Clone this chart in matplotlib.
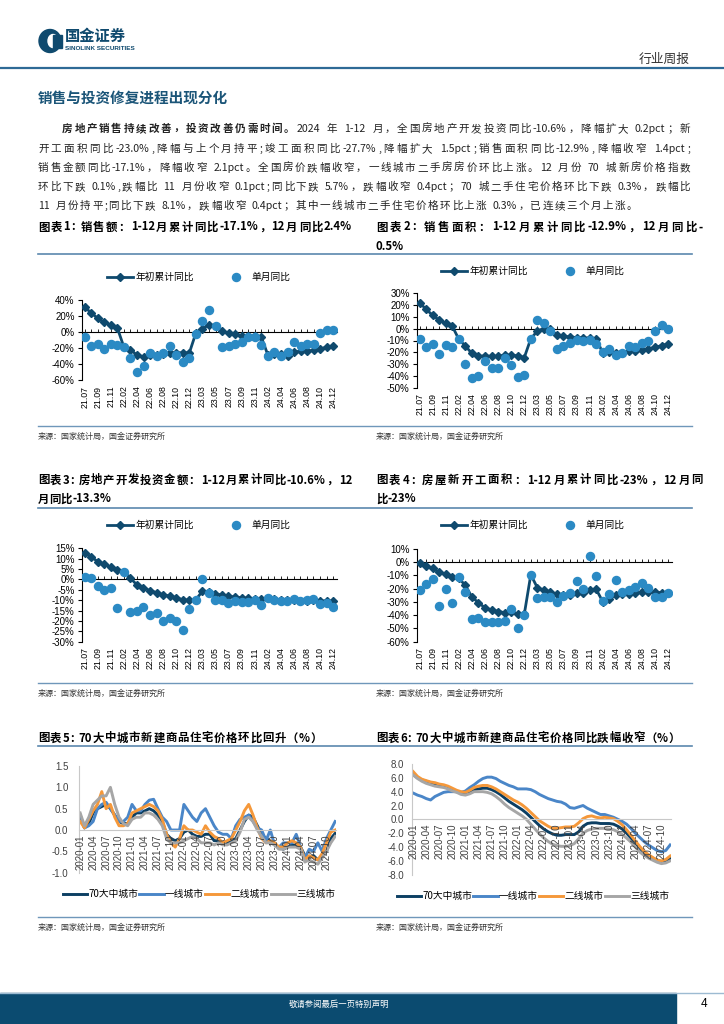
import re
import numpy as np
import matplotlib
matplotlib.use('Agg')
import matplotlib.pyplot as plt
from matplotlib.patches import Rectangle, Ellipse
from matplotlib.lines import Line2D

plt.rcParams['font.family'] = ['Noto Sans CJK SC', 'DejaVu Sans']
NUMFONT = ['Liberation Sans', 'DejaVu Sans']

# ---------------- data ----------------
months = ['21.07', '21.08', '21.09', '21.10', '21.11', '21.12',
          '22.02', '22.03', '22.04', '22.05', '22.06', '22.07', '22.08', '22.09', '22.10', '22.11', '22.12',
          '23.02', '23.03', '23.04', '23.05', '23.06', '23.07', '23.08', '23.09', '23.10', '23.11', '23.12',
          '24.02', '24.03', '24.04', '24.05', '24.06', '24.07', '24.08', '24.09', '24.10', '24.11', '24.12']

# 图表1 销售额
sales_cum = [31, 24, 17, 12, 9, 5,
             -19, -22, -29, -31, -29, -29, -27, -26, -26, -26, -26,
             -1, 4, 9, 8, 1, -1.5, -3, -4.5, -5, -5, -6.5,
             -29, -28, -28, -30, -25, -24, -24, -23, -21, -19, -17.1]
sales_mon = [-6, -17.5, -15.5, -21.7, -15.5, -16.7,
             -19, -32.5, -49.6, -43, -26, -30, -26, -18, -29, -37, -32,
             -3, 14, 28, 8, -19, -17.5, -15.5, -13, -6.7, -6.7, -16.7,
             -30, -25.4, -30, -25.4, -13, -18, -15.5, -15.5, -1, 2, 2.4]

# 图表2 销售面积
area_cum = [22, 16.4, 11.3, 7.3, 4.5, 2,
            -9, -14.7, -21, -23.5, -23, -23.5, -23.3, -22.5, -22.5, -23, -24.5,
            -8.5, -2, 0, -0.5, -5.3, -6.3, -7, -7.5, -7.8, -8, -8.5,
            -20.5, -19.4, -20.2, -20.3, -19, -18.6, -18, -17.1, -15.8, -14.3, -12.9]
area_mon = [-8.5, -15.8, -13.3, -21.5, -14, -15.3,
            -9, -30, -42, -40, -27.7, -33, -33, -24.6, -31, -41, -39,
            -8.5, 7.3, 4.8, -1.7, -17.5, -14.7, -12, -9.6, -10.7, -9.6, -12.7,
            -20, -17.2, -22.3, -20.6, -14.7, -15.3, -12, -10.7, -1.7, 3.1, -0.5]

# 图表3 开发投资
inv_cum = [12.8, 10.9, 8.6, 7.2, 6.1, 4.5,
           3.7, 0.7, -2.7, -4.0, -5.4, -6.4, -7.4, -8.0, -8.8, -9.8, -10.0,
           -9.8, -5.7, -6.2, -7.0, -7.5, -8.2, -8.5, -8.8, -9.1, -9.3, -9.4,
           -9.0, -9.4, -9.8, -10.1, -10.1, -10.2, -10.2, -10.1, -10.3, -10.4, -10.6]
inv_mon = [1.4, 0.5, -3.4, -5.1, -4.3, -13.7,
           3.7, -15.8, -15.3, -13.2, -17.3, -16, -19.9, -18.8, -20.2, -24.6, -14.4,
           -9.8, 0, -6.5, -10, -9.8, -11.5, -10.6, -10.9, -10.9, -10, -12.1,
           -8.8, -9.8, -10.5, -10.5, -9.6, -10.5, -10, -9.2, -12, -11.5, -13.3]

# 图表4 新开工面积
start_cum = [-0.8, -3.2, -4.5, -7.7, -9.1, -11.4,
             -12.2, -17.5, -26.3, -30.6, -34.4, -36.1, -37.2, -38, -37.8, -38.9, -39.4,
             -9.4, -19.2, -21.2, -22.6, -24.3, -24.5, -24.4, -23.4, -23.2, -21.2, -20.4,
             -29.7, -27.8, -24.6, -24.2, -23.7, -23.2, -22.5, -22.2, -22.6, -23.0, -23.0]
start_mon = [-21, -16.4, -13, -33, -20.5, -30.7,
             -11.4, -22.4, -43, -42.3, -45.3, -45.3, -45.3, -44.5, -35, -49.6, -39.5,
             -9.8, -27.2, -26.4, -26.4, -30, -25.2, -23.2, -14.1, -20.4, 4.8, -10.6,
             -29.2, -24.2, -13.4, -22.4, -20.9, -18.9, -15.9, -19.1, -26, -26, -23]

# 图表5/6 70城新房价格
months2 = [f'{y}-{m:02d}' for y in range(2020, 2025) for m in range(1, 13)]
city_names = ['70大中城市', '一线城市', '二线城市', '三线城市']

mom_70 = [0.3, 0.05, 0.15, 0.4, 0.5, 0.55, 0.6, 0.5, 0.35, 0.2, 0.15, 0.15,
          0.3, 0.4, 0.4, 0.45, 0.5, 0.45, 0.35, 0.2, -0.1, -0.2, -0.25, -0.2,
          -0.05, 0.0, -0.1, -0.15, -0.15, -0.1, -0.1, -0.25, -0.25, -0.3, -0.3, -0.25,
          -0.2, 0.0, 0.2, 0.35, 0.3, 0.1, -0.1, -0.2, -0.25, -0.35, -0.4, -0.45,
          -0.4, -0.35, -0.35, -0.4, -0.6, -0.65, -0.6, -0.7, -0.6, -0.5, -0.2, -0.08]
mom_t1 = [0.35, 0.05, 0.1, 0.2, 0.5, 0.6, 0.65, 0.5, 0.35, 0.2, 0.2, 0.3,
          0.6, 0.45, 0.45, 0.6, 0.7, 0.72, 0.5, 0.3, 0.2, 0.0, 0.0, 0.0,
          0.6, 0.45, 0.3, 0.2, 0.4, 0.5, 0.3, 0.1, -0.05, -0.1, -0.1, -0.2,
          0.1, 0.25, 0.3, 0.35, 0.2, 0.05, 0.0, -0.25, 0.0, -0.35, -0.4, -0.3,
          -0.3, -0.3, -0.1, -0.4, -0.65, -0.45, -0.5, -0.3, -0.5, -0.2, 0.0, 0.2]
mom_t2 = [0.2, 0.05, 0.25, 0.45, 0.6, 0.9, 0.5, 0.6, 0.3, 0.1, 0.1, 0.15,
          0.4, 0.45, 0.5, 0.55, 0.6, 0.55, 0.45, 0.25, -0.1, -0.3, -0.4, -0.2,
          0.1, 0.0, 0.0, -0.05, -0.1, 0.1, -0.05, -0.15, -0.2, -0.3, -0.25, -0.2,
          0.0, 0.2, 0.45, 0.6, 0.35, 0.05, -0.2, -0.3, -0.25, -0.3, -0.4, -0.4,
          -0.3, -0.25, -0.3, -0.4, -0.7, -0.6, -0.65, -0.7, -0.55, -0.3, -0.05, 0.0]
mom_t3 = [0.4, 0.1, 0.3, 0.6, 0.7, 0.8, 0.8, 1.0, 0.6, 0.3, 0.15, 0.1,
          0.25, 0.3, 0.3, 0.4, 0.4, 0.35, 0.25, 0.1, -0.2, -0.3, -0.3, -0.3,
          -0.25, -0.2, -0.15, -0.2, -0.3, -0.3, -0.3, -0.35, -0.3, -0.35, -0.35, -0.3,
          -0.25, -0.05, 0.25, 0.3, 0.2, 0.0, -0.15, -0.3, -0.3, -0.35, -0.45, -0.45,
          -0.4, -0.4, -0.4, -0.45, -0.75, -0.7, -0.75, -0.8, -0.65, -0.5, -0.3, -0.15]

yoy_70 = [6.5, 6.0, 5.7, 5.5, 5.3, 5.1, 4.9, 4.8, 4.6, 4.3, 4.0, 3.9,
          3.8, 4.0, 4.3, 4.4, 4.5, 4.5, 4.3, 4.0, 3.6, 3.1, 2.6, 2.2,
          1.8, 1.4, 0.9, 0.3, -0.3, -0.9, -1.4, -1.8, -2.1, -2.3, -2.3, -2.2,
          -2.2, -2.2, -1.8, -1.0, -0.6, -0.5, -0.5, -0.6, -0.6, -0.6, -0.7, -1.0,
          -1.4, -2.0, -2.7, -3.4, -4.2, -4.8, -5.2, -5.6, -5.9, -6.1, -6.1, -5.7]
yoy_t1 = [3.8, 3.5, 3.3, 3.0, 2.8, 3.3, 3.6, 3.9, 4.0, 4.0, 4.0, 3.9,
          4.1, 4.6, 5.0, 5.5, 5.9, 6.1, 6.1, 5.9, 5.5, 5.2, 4.9, 4.7,
          4.4, 4.4, 4.4, 4.3, 4.0, 3.6, 3.3, 3.0, 2.8, 2.6, 2.5, 2.2,
          1.7, 1.6, 1.8, 2.0, 1.6, 1.3, 1.0, 0.7, 0.7, 0.5, 0.3, 0.0,
          -0.3, -0.7, -1.3, -2.0, -2.6, -3.2, -3.7, -4.1, -4.5, -4.7, -4.5, -3.7]
yoy_t2 = [6.9, 6.2, 5.8, 5.6, 5.4, 5.3, 5.1, 5.0, 4.8, 4.5, 4.2, 4.0,
          3.9, 4.2, 4.6, 4.8, 4.9, 4.9, 4.7, 4.4, 4.0, 3.6, 3.2, 2.8,
          2.5, 2.1, 1.6, 1.0, 0.4, -0.2, -0.6, -1.0, -1.3, -1.3, -1.2, -1.1,
          -1.1, -1.0, -0.5, 0.1, 0.4, 0.5, 0.3, 0.2, 0.3, 0.2, 0.1, -0.3,
          -0.8, -1.5, -2.3, -3.1, -3.9, -4.6, -5.1, -5.5, -5.9, -6.0, -5.8, -5.3]
yoy_t3 = [6.4, 5.9, 5.5, 5.2, 5.0, 4.8, 4.7, 4.6, 4.4, 4.1, 3.9, 3.6,
          3.5, 3.7, 4.0, 4.0, 4.0, 3.9, 3.7, 3.3, 2.8, 2.2, 1.7, 1.3,
          0.9, 0.5, 0.0, -0.7, -1.4, -2.1, -2.7, -3.2, -3.6, -3.8, -3.9, -3.9,
          -3.8, -3.5, -2.8, -2.0, -1.6, -1.4, -1.3, -1.3, -1.3, -1.4, -1.5, -1.8,
          -2.2, -2.7, -3.3, -4.0, -4.7, -5.2, -5.6, -5.9, -6.2, -6.4, -6.3, -6.0]

# ---------------- page ----------------
NAVY = '#0f4a6e'
DOT = '#2b8ac4'
LINE_C = '#5b88ae'
city_colors = ['#0c3f63', '#4a86c8', '#f5983a', '#a6a6a6']

W, H = 724, 1024
fig = plt.figure(figsize=(W / 100, H / 100), dpi=100)
renderer = fig.canvas.get_renderer()


def fx(x):
    return x / W


def fy(y):
    return 1 - y / H


def hline(y, x0, x1, color=LINE_C, lw=1.2):
    fig.add_artist(Line2D([fx(x0), fx(x1)], [fy(y), fy(y)], color=color, lw=lw))


def put_line(y, parts, x0, x1=None, size=7.8, color='black'):
    # place a line of text, char by char, justified to x1 if given
    items = []
    for s, bold in parts:
        for tok in re.findall(r'[A-Za-z0-9.%\-]+|\s|.', s):
            if tok == ' ':
                items.append((None, size * 1.389 * 0.3))
                continue
            t = fig.text(0, fy(y), tok, fontsize=size, color=color, va='center',
                         fontweight='bold' if bold else 'normal')
            items.append((t, t.get_window_extent(renderer).width))
    total = sum(w for _, w in items)
    gap = 0 if x1 is None else (x1 - x0 - total) / (len(items) - 1)
    x = x0
    for t, w in items:
        if t is not None:
            t.set_x(fx(x))
        x += w + gap


# header
fig.add_artist(Ellipse((fx(50), fy(41)), 22 / W, 23 / H, color=NAVY))
fig.add_artist(Ellipse((fx(53), fy(41)), 10 / W, 13 / H, color='white'))
fig.add_artist(Rectangle((fx(53), fy(47.5)), 9 / W, 13 / H, color=NAVY))
fig.text(fx(65), fy(36), '国金证券', fontsize=11, fontweight='bold', color=NAVY, va='center')
fig.text(fx(65), fy(49), 'SINOLINK SECURITIES', fontsize=4.6, fontweight='bold', color=NAVY,
         va='center', family=NUMFONT)
fig.text(fx(690), fy(59), '行业周报', fontsize=9.2, color='#333333', va='center', ha='right')
hline(68, 0, 724, color='#2e6a96', lw=1.6)

fig.text(fx(38), fy(98), '销售与投资修复进程出现分化', fontsize=10.5, fontweight='bold',
         color='#1b5578', va='center')

# paragraph
para = [
    [('房地产销售持续改善，投资改善仍需时间。', True),
     ('2024 年 1-12 月，全国房地产开发投资同比-10.6%，降幅扩大 0.2pct；新', False)],
    [('开工面积同比-23.0%,降幅与上个月持平;竣工面积同比-27.7%,降幅扩大 1.5pct;销售面积同比-12.9%,降幅收窄 1.4pct;', False)],
    [('销售金额同比-17.1%，降幅收窄 2.1pct。全国房价跌幅收窄，一线城市二手房房价环比上涨。12 月份 70 城新房价格指数', False)],
    [('环比下跌 0.1%,跌幅比 11 月份收窄 0.1pct;同比下跌 5.7%，跌幅收窄 0.4pct；70 城二手住宅价格环比下跌 0.3%，跌幅比', False)],
    [('11 月份持平;同比下跌 8.1%，跌幅收窄 0.4pct；其中一线城市二手住宅价格环比上涨 0.3%，已连续三个月上涨。', False)],
]
para_y = [129, 149, 168, 187, 206]
para_x0 = [62, 38, 38, 38, 38]
para_x1 = [690, 690, 690, 690, 637]
for parts, y, a, b in zip(para, para_y, para_x0, para_x1):
    put_line(y, parts, a, b, size=7.6, color='#222222')

# chart titles
TS = 8.2
put_line(227, [('图表1: 销售额：1-12月累计同比-17.1%，12月同比2.4%', True)], 38, 352, size=TS)
put_line(227, [('图表2: 销售面积：1-12月累计同比-12.9%，12月同比-', True)], 376, 703, size=TS)
put_line(246, [('0.5%', True)], 376, None, size=TS)
put_line(480, [('图表3: 房地产开发投资金额：1-12月累计同比-10.6%，12', True)], 38, 352, size=TS)
put_line(499, [('月同比-13.3%', True)], 38, None, size=TS)
put_line(480, [('图表4: 房屋新开工面积：1-12月累计同比-23%，12月同', True)], 376, 703, size=TS)
put_line(499, [('比-23%', True)], 376, None, size=TS)
put_line(738, [('图表5: 70大中城市新建商品住宅价格环比回升（%）', True)], 38, 322, size=TS)
put_line(738, [('图表6: 70大中城市新建商品住宅价格同比跌幅收窄（%）', True)], 376, 680, size=TS)

for y in [254, 508, 746]:
    hline(y, 38, 692)
for y in [426, 683, 917]:
    hline(y, 38, 692, color='#6f97ba', lw=1.0)
    for x in [38, 376]:
        fig.text(fx(x), fy(y + 10), '来源：国家统计局，国金证券研究所', fontsize=5.8,
                 color='#333333', va='center')

# footer
fig.add_artist(Rectangle((0, fy(1024)), fx(676), 31 / H, color='#0b4b70'))
hline(993, 0, 724, color='#9dbbd2', lw=1.0)
fig.text(fx(339), fy(1004), '敬请参阅最后一页特别声明', fontsize=6, color='white', ha='center', va='center')
fig.text(fx(704), fy(1004), '4', fontsize=8.5, color='black', ha='center', va='center', family=NUMFONT)


# ---------------- charts 1-4 ----------------
def add_ax(l, t, r, b):
    return fig.add_axes([fx(l), fy(b), fx(r) - fx(l), (b - t) / H])


def combo(box, cum, mon, ylim, yticks, leg_xy):
    ax = add_ax(*box)
    x = np.arange(len(months))
    ax.plot(x, cum, color=NAVY, lw=2.0, marker='D', ms=3.8, label='年初累计同比', zorder=3)
    ax.plot(x, mon, ls='none', marker='o', ms=5.8, color=DOT, label='单月同比', zorder=4)
    ax.set_xlim(-0.45, len(months) - 0.45)
    ax.set_ylim(*ylim)
    ax.set_yticks(yticks)
    ax.set_yticklabels([f'{v}%' for v in yticks], fontsize=7, family=NUMFONT)
    ax.tick_params(axis='y', length=3, width=0.8, pad=2)
    for s in ['top', 'right']:
        ax.spines[s].set_visible(False)
    ax.spines['left'].set_linewidth(0.8)
    ax.spines['bottom'].set_position(('data', 0))
    ax.spines['bottom'].set_linewidth(0.8)
    ax.set_xticks(x)
    ax.tick_params(axis='x', length=2.5, width=0.6, direction='in', labelbottom=False)
    for i in range(0, len(months), 2):
        ax.annotate(months[i], (i, 0), xycoords=('data', 'axes fraction'), xytext=(0, -4),
                    textcoords='offset points', rotation=90, ha='center', va='top',
                    fontsize=6.3, family=NUMFONT)
    ax.patch.set_alpha(0)
    ax.legend(loc='center', bbox_to_anchor=(fx(leg_xy[0]), fy(leg_xy[1])),
              bbox_transform=fig.transFigure, ncol=2, frameon=False, fontsize=7,
              handlelength=2.6, handletextpad=0.3, columnspacing=3.0, borderpad=0)
    return ax


combo((81.7, 300, 337, 380), sales_cum, sales_mon, (-60, 40), [40, 20, 0, -20, -40, -60], (199, 277))
combo((416.7, 293.3, 671.7, 387.7), area_cum, area_mon, (-50, 30),
      [30, 20, 10, 0, -10, -20, -30, -40, -50], (533, 271))
combo((81.7, 548.3, 336.7, 641.7), inv_cum, inv_mon, (-30, 15),
      [15, 10, 5, 0, -5, -10, -15, -20, -25, -30], (199, 525))
combo((416.7, 549, 671.7, 641.7), start_cum, start_mon, (-60, 10),
      [10, 0, -10, -20, -30, -40, -50, -60], (533, 525))


# ---------------- charts 5-6 ----------------
def city_chart(box, series, ylim, yticks, fmt, leg_xy, pad):
    ax = add_ax(*box)
    x = np.arange(len(months2))
    for vals, name, c in zip(series, city_names, city_colors):
        ax.plot(x, vals, color=c, lw=2.1, label=name)
    ax.set_xlim(-0.2, len(months2) - 0.8)
    ax.set_ylim(*ylim)
    ax.set_yticks(yticks)
    ax.set_yticklabels([fmt.format(v) for v in yticks], fontsize=7, family=NUMFONT, color='#404040')
    ax.tick_params(axis='y', length=0, pad=pad)
    for s in ['top', 'right']:
        ax.spines[s].set_visible(False)
    ax.spines['left'].set_color('#c8c8c8')
    ax.spines['bottom'].set_position(('data', 0))
    ax.spines['bottom'].set_color('#c8c8c8')
    ax.set_xticks([])
    for i in range(0, len(months2), 3):
        ax.annotate(months2[i], (i, 0), xycoords='data', xytext=(0, -3),
                    textcoords='offset points', rotation=90, ha='center', va='top',
                    fontsize=7, family=NUMFONT, color='#404040')
    ax.patch.set_alpha(0)
    ax.legend(loc='center', bbox_to_anchor=(fx(leg_xy[0]), fy(leg_xy[1])),
              bbox_transform=fig.transFigure, ncol=4, frameon=False, fontsize=7,
              handlelength=2.5, handletextpad=0.1, columnspacing=0.15, borderpad=0)
    return ax


city_chart((79.3, 766, 336, 872.7), [mom_70, mom_t1, mom_t2, mom_t3], (-1.0, 1.5),
           [1.5, 1.0, 0.5, 0.0, -0.5, -1.0], '{:.1f}', (199, 894), 8)
city_chart((412.3, 764, 671, 874.7), [yoy_70, yoy_t1, yoy_t2, yoy_t3], (-8, 8),
           [8, 6, 4, 2, 0, -2, -4, -6, -8], '{:.1f}', (533, 896), 6)

fig.savefig('out.png', dpi=100)
